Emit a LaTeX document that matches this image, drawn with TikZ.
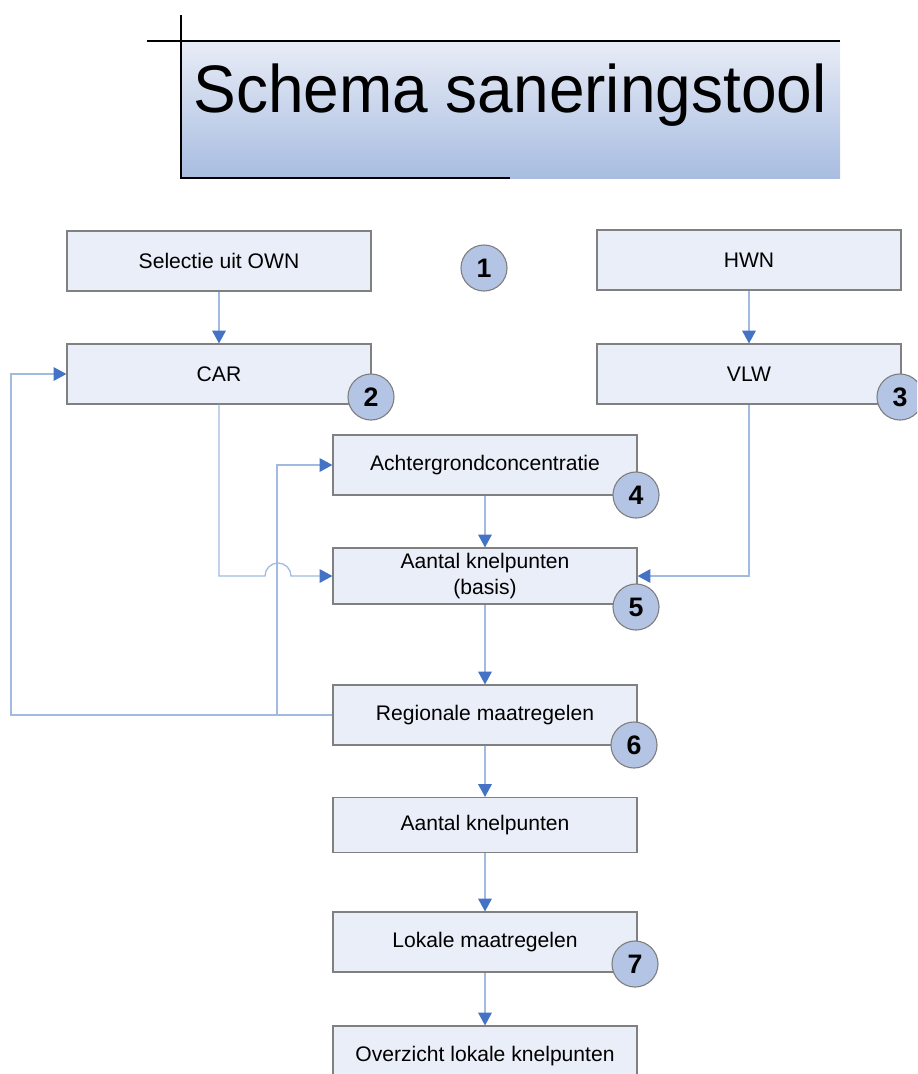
\documentclass[tikz,border=0pt]{standalone}
\usepackage{fontspec}
\setmainfont{Liberation Sans}
\usetikzlibrary{positioning,arrows.meta}
\definecolor{boxfill}{RGB}{233,238,248}
\definecolor{boxline}{RGB}{128,128,128}
\definecolor{linkblue}{RGB}{160,186,224}
\definecolor{tipblue}{RGB}{68,114,196}
\definecolor{badgefill}{RGB}{180,196,228}
\definecolor{titletop}{RGB}{232,236,246}
\definecolor{titlebot}{RGB}{168,189,225}

\begin{document}
\begin{tikzpicture}[x=0.025cm, y=-0.025cm,
  stepbox/.style={draw=boxline, fill=boxfill, line width=0.8pt, minimum width=7.6cm, minimum height=1.5cm,
    font=\fontsize{15}{18.5}\selectfont, align=center, inner sep=0pt},
  badge/.style={circle, draw=boxline, fill=badgefill, line width=0.8pt, minimum size=1.15cm, inner sep=0pt,
    font=\fontsize{19}{20}\selectfont\bfseries},
  link/.style={draw=linkblue, line width=0.9pt, -{Triangle[length=0.32cm, width=0.34cm, color=tipblue]}}]
  \useasboundingbox (0,0) rectangle (917,1074);
  \clip (0,0) rectangle (917,1074);

  % title
  \fill[top color=titletop, bottom color=titlebot] (181,41) rectangle (840,178);
  \draw[line width=1.3pt] (147,41) -- (840,41);
  \draw[line width=1.3pt] (181,15) -- (181,178) -- (510,178);
  \node[anchor=base, font=\fontsize{45.5}{50}\selectfont, yscale=1.05] (title) at (510,112) {Schema saneringstool};

  % steps
  \node[stepbox] (own) at (219,261) {Selectie uit OWN};
  \node[stepbox] (car) at (219,374) {CAR};
  \node[stepbox] (hwn) at (749,260) {HWN};
  \node[stepbox] (vlw) at (749,374) {VLW};
  \node[stepbox] (achter) at (485,465) {Achtergrondconcentratie};
  \node[stepbox, minimum height=1.4cm] (basis) at (485,576) {Aantal knelpunten\\(basis)};
  \node[stepbox] (regio) at (485,715) {Regionale maatregelen};
  \node[stepbox, minimum height=1.375cm] (aantal) at (485,825) {Aantal knelpunten};
  \node[stepbox] (lokaal) at (485,942) {Lokale maatregelen};
  \node[stepbox] (overz) at (485,1056) {Overzicht lokale knelpunten};

  % links
  \draw[link] (own) -- (car);
  \draw[link] (hwn) -- (vlw);
  \draw[link] (achter) -- (basis);
  \draw[link] (basis) -- (regio);
  \draw[link] (regio) -- (aantal);
  \draw[link] (aantal) -- (lokaal);
  \draw[link] (lokaal) -- (overz);
  \draw[link] (vlw.south) |- (basis.east);
  \coordinate (hop) at (265,576);
  \draw[link] (car.south) |- (hop) arc[start angle=180, end angle=0, radius=0.325cm] -- (basis.west);
  \coordinate (back) at (11,715);
  \coordinate (split) at (277,715);
  \draw[link] (regio.west) -- (back) |- (car.west);
  \draw[link] (split) |- (achter.west);

  % numbers
  \foreach \n/\x/\y in {1/484/268, 2/371/397, 3/900/397, 4/636/495, 5/636/607, 6/634/745, 7/635/964}
    \node[badge] (nr\n) at (\x,\y) {\n};
\end{tikzpicture}
\end{document}
